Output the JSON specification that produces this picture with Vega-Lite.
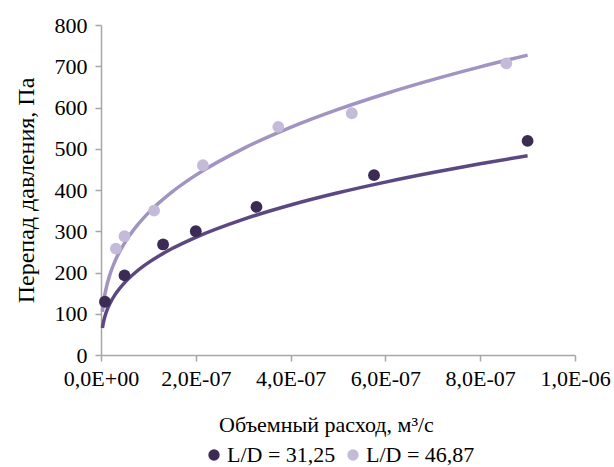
{
  "$schema": "https://vega.github.io/schema/vega-lite/v6.json",
  "width": 474,
  "height": 330,
  "autosize": {"type": "none"},
  "padding": {"left": 101, "top": 25, "right": 39, "bottom": 112},
  "background": "white",
  "config": {
    "view": {"stroke": null},
    "font": "Liberation Serif",
    "style": {"guide-label": {"font": "Liberation Serif"}},
    "axis": {
      "grid": false,
      "domainColor": "#a6a6a6",
      "domainWidth": 1.5,
      "tickColor": "#a6a6a6",
      "tickWidth": 1.5,
      "tickSize": 6,
      "labelFont": "Liberation Serif",
      "labelFontSize": 22,
      "labelColor": "#000000",
      "titleFont": "Liberation Serif",
      "titleFontWeight": "normal",
      "titleColor": "#000000"
    },
    "legend": {
      "labelFont": "Liberation Serif",
      "labelFontSize": 22,
      "labelColor": "#000000"
    }
  },
  "datasets": {
    "points": [
      {"series": "L/D = 31,25", "Q": 0.83e-8, "P": 129},
      {"series": "L/D = 31,25", "Q": 4.96e-8, "P": 193},
      {"series": "L/D = 31,25", "Q": 1.31e-7, "P": 268},
      {"series": "L/D = 31,25", "Q": 2.0e-7, "P": 300},
      {"series": "L/D = 31,25", "Q": 3.28e-7, "P": 359},
      {"series": "L/D = 31,25", "Q": 5.76e-7, "P": 436},
      {"series": "L/D = 31,25", "Q": 9.0e-7, "P": 519},
      {"series": "L/D = 46,87", "Q": 3.14e-8, "P": 258},
      {"series": "L/D = 46,87", "Q": 4.96e-8, "P": 288},
      {"series": "L/D = 46,87", "Q": 1.12e-7, "P": 350},
      {"series": "L/D = 46,87", "Q": 2.15e-7, "P": 460},
      {"series": "L/D = 46,87", "Q": 3.74e-7, "P": 553},
      {"series": "L/D = 46,87", "Q": 5.29e-7, "P": 586},
      {"series": "L/D = 46,87", "Q": 8.55e-7, "P": 707}
    ],
    "trend": [
      {"curve": "a", "Q": 3e-9, "P": 65.6},
      {"curve": "a", "Q": 5e-9, "P": 78.5},
      {"curve": "a", "Q": 1e-8, "P": 100},
      {"curve": "a", "Q": 2e-8, "P": 127.5},
      {"curve": "a", "Q": 3e-8, "P": 146.9},
      {"curve": "a", "Q": 5e-8, "P": 175.6},
      {"curve": "a", "Q": 7.5e-8, "P": 202.4},
      {"curve": "a", "Q": 1e-7, "P": 223.8},
      {"curve": "a", "Q": 1.5e-7, "P": 258},
      {"curve": "a", "Q": 2e-7, "P": 285.3},
      {"curve": "a", "Q": 3e-7, "P": 328.8},
      {"curve": "a", "Q": 4e-7, "P": 363.7},
      {"curve": "a", "Q": 5e-7, "P": 393.2},
      {"curve": "a", "Q": 6e-7, "P": 419.1},
      {"curve": "a", "Q": 7e-7, "P": 442.3},
      {"curve": "a", "Q": 8e-7, "P": 463.5},
      {"curve": "a", "Q": 9e-7, "P": 483},
      {"curve": "b", "Q": 3e-9, "P": 104.5},
      {"curve": "b", "Q": 5e-9, "P": 124.3},
      {"curve": "b", "Q": 1e-8, "P": 157.4},
      {"curve": "b", "Q": 2e-8, "P": 199.3},
      {"curve": "b", "Q": 3e-8, "P": 228.8},
      {"curve": "b", "Q": 5e-8, "P": 272.1},
      {"curve": "b", "Q": 7.5e-8, "P": 312.3},
      {"curve": "b", "Q": 1e-7, "P": 344.5},
      {"curve": "b", "Q": 1.5e-7, "P": 395.3},
      {"curve": "b", "Q": 2e-7, "P": 436},
      {"curve": "b", "Q": 3e-7, "P": 500.4},
      {"curve": "b", "Q": 4e-7, "P": 551.8},
      {"curve": "b", "Q": 5e-7, "P": 595.3},
      {"curve": "b", "Q": 6e-7, "P": 633.4},
      {"curve": "b", "Q": 7e-7, "P": 667.5},
      {"curve": "b", "Q": 8e-7, "P": 698.5},
      {"curve": "b", "Q": 9e-7, "P": 727}
    ]
  },
  "encoding": {
    "x": {
      "field": "Q",
      "type": "quantitative",
      "scale": {"domain": [0, 1e-6], "nice": false},
      "axis": {
        "values": [0, 2e-7, 4e-7, 6e-7, 8e-7, 1e-6],
        "labelExpr": "datum.value == 0 ? '0,0E+00' : replace(replace(format(datum.value, '.1e'), '.', ','), 'e-', 'E-0')",
        "labelPadding": 7,
        "labelFlush": false,
        "title": "Объемный расход, м³/с",
        "titleFontSize": 22,
        "titlePadding": 25,
        "titleX": 225
      }
    },
    "y": {
      "field": "P",
      "type": "quantitative",
      "scale": {"domain": [0, 800], "nice": false},
      "axis": {
        "values": [0, 100, 200, 300, 400, 500, 600, 700, 800],
        "labelPadding": 8,
        "title": "Перепад давления, Па",
        "titleFontSize": 24,
        "titlePadding": 16
      }
    }
  },
  "layer": [
    {
      "data": {"name": "trend"},
      "mark": {"type": "line", "strokeWidth": 3.5, "interpolate": "monotone"},
      "encoding": {
        "stroke": {
          "field": "curve",
          "type": "nominal",
          "scale": {"domain": ["a", "b"], "range": ["#5b4883", "#a193c2"]},
          "legend": null
        }
      }
    },
    {
      "data": {"name": "points"},
      "mark": {"type": "circle", "size": 140, "opacity": 1},
      "encoding": {
        "color": {
          "field": "series",
          "type": "nominal",
          "scale": {"domain": ["L/D = 31,25", "L/D = 46,87"], "range": ["#3b2b55", "#c4bbd8"]},
          "legend": {
            "title": null,
            "orient": "none",
            "legendX": 102,
            "legendY": 419,
            "direction": "horizontal",
            "symbolType": "circle",
            "symbolSize": 130,
            "symbolOpacity": 1,
            "labelFont": "Liberation Serif",
            "labelFontSize": 22,
            "labelColor": "#000000",
            "labelOffset": 2,
            "columnPadding": 6
          }
        }
      }
    }
  ]
}
